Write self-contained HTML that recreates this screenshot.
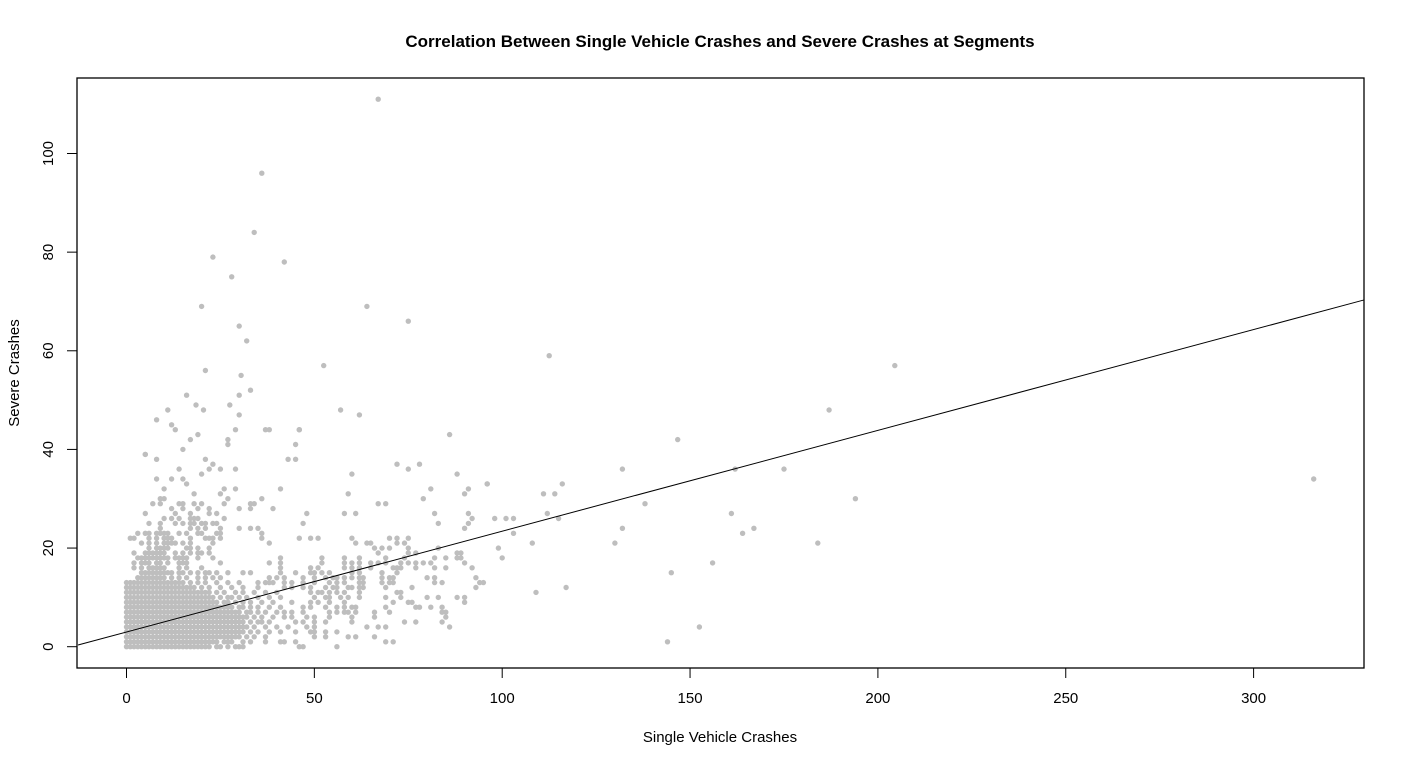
<!DOCTYPE html>
<html><head><meta charset="utf-8"><style>
html,body{margin:0;padding:0;background:#fff}
svg{display:block}
text{font-family:"Liberation Sans",Arial,sans-serif;fill:#000}
</style></head><body>
<svg id="chart" width="1405" height="766" viewBox="0 0 1405 766" xmlns="http://www.w3.org/2000/svg">
<rect width="1405" height="766" fill="#fff"/>
<text x="720" y="47" text-anchor="middle" font-size="17" font-weight="bold">Correlation Between Single Vehicle Crashes and Severe Crashes at Segments</text>
<text x="720" y="742" text-anchor="middle" font-size="15">Single Vehicle Crashes</text>
<text x="19" y="373" text-anchor="middle" font-size="15" transform="rotate(-90 19 373)">Severe Crashes</text>
<g id="points"></g>
<g id="fitline"></g>
<rect x="77" y="78" width="1287" height="590" fill="none" stroke="#000" stroke-width="1.3"/>
<g id="axes"></g>
</svg>
<script>
const xTicks=[0,50,100,150,200,250,300];
const yTicks=[0,20,40,60,80,100];
const fitIntercept=2.98;
const fitSlope=0.2044;
const denseY=[0,1,2,3,4,5,6,7,8,9,10,11,12,13,14,15,16,17,18,19,20,21,22,23,24,25,26,27,28,29,30];
const denseX=[
[0,1,2,3,4,5,6,7,8,9,10,11,12,13,14,15,16,17,18,19,20,21,22,24,25,27,29,30,31,46,47,56],
[0,1,2,3,4,5,6,7,8,9,10,11,12,13,14,15,16,17,18,19,20,21,22,23,24,26,27,28,31,33,37,41,42,45,69,71],
[0,1,2,3,4,5,6,7,8,9,10,11,12,13,14,15,16,17,18,19,20,21,22,23,24,25,26,27,28,29,30,32,34,37,50,53,59,61,66],
[0,1,2,3,4,5,6,7,8,9,10,11,12,13,14,15,16,17,18,19,20,21,22,23,24,25,26,27,28,29,30,31,33,35,38,41,45,49,50,53,56],
[0,1,2,3,4,5,6,7,8,9,10,11,12,13,14,15,16,17,18,19,20,21,22,23,24,25,26,27,28,29,30,31,32,34,37,40,43,48,50,64,67,69,86],
[0,1,2,3,4,5,6,7,8,9,10,11,12,13,14,15,16,17,18,19,20,21,22,23,24,25,26,27,28,29,30,31,33,35,36,38,45,47,50,53,60,74,77,84],
[0,1,2,3,4,5,6,7,8,9,10,11,12,13,14,15,16,17,18,19,20,21,22,23,24,25,26,27,28,29,30,31,32,34,36,39,42,44,48,50,54,60,66,85],
[0,1,2,3,4,5,6,7,8,9,10,11,12,13,14,15,16,17,18,19,20,21,22,23,24,25,26,27,28,29,30,32,33,35,37,40,42,44,47,54,56,58,59,61,66,70,84,85],
[0,1,2,3,4,5,6,7,8,9,10,11,12,13,14,15,16,17,18,19,20,21,22,23,24,25,26,27,28,30,31,33,35,38,41,47,49,53,56,58,60,61,69,77,78,81,84],
[0,1,2,3,4,5,6,7,8,9,10,11,12,13,14,15,16,17,18,19,20,21,22,23,24,26,27,29,31,33,36,39,44,49,51,54,58,71,75,76,90],
[0,1,2,3,4,5,6,7,8,9,10,11,12,13,14,15,16,17,18,19,20,21,22,23,25,27,28,30,32,35,38,41,50,53,54,57,59,62,69,73,80,83,88,90],
[0,1,2,3,4,5,6,7,8,9,10,11,12,13,14,15,16,17,18,19,20,21,22,24,26,29,31,34,37,40,49,51,52,54,56,58,62,72,73],
[0,1,2,3,4,5,6,7,8,9,10,11,12,13,14,15,16,17,18,20,22,25,28,31,35,42,44,47,49,53,55,56,59,60,62,63,69,76,93],
[0,1,2,3,4,5,6,7,8,9,10,11,12,13,14,15,17,19,21,24,27,30,35,37,38,39,42,44,47,50,54,56,58,62,63,68,70,71,82,84,94,95],
[3,4,5,6,7,8,9,10,12,14,16,19,21,23,25,38,40,42,47,50,53,55,56,58,60,62,63,68,70,71,80,82,93],
[4,5,6,7,8,9,10,11,12,14,15,17,19,21,22,24,27,31,33,41,45,49,50,52,54,60,62,68,72],
[2,4,6,7,8,9,10,14,16,20,41,49,51,58,60,62,65,71,72,73,77,82,85,92],
[2,4,5,6,8,9,11,14,15,16,25,38,41,52,58,60,62,65,67,69,73,75,77,79,81,90],
[3,4,5,6,7,8,9,10,11,13,14,15,16,19,23,41,52,58,62,69,74,82,85,88,89,100],
[2,5,6,7,8,9,10,13,15,17,19,20,22,67,75,77,88,89],
[6,8,9,10,11,16,17,19,22,66,68,70,75,83,99],
[4,6,8,10,11,12,13,15,17,23,38,61,64,65,72,74,108],
[1,2,6,8,10,11,12,17,21,22,23,25,36,46,49,51,60,70,72,75],
[3,5,6,8,9,10,11,14,16,19,20,24,25,36,103],
[9,17,19,21,25,30,33,35,90,132],
[6,9,13,15,17,18,20,21,23,24,47,83,91],
[10,12,14,17,18,19,26,92,98,101,103,115],
[5,13,17,22,24,48,58,61,82,91,112,161],
[12,15,19,22,30,33,39],
[7,9,14,15,18,20,26,33,34,67,69,138],
[9,10,27,36,79]
];
const sparseX=[67,36,34,23,42,28,20,64,75,30,32,112.5,21,52.5,204.5,30.5,33,16,30,187,11,20.5,57,62,8,30,18.5,27.5,146.7,86,5,38,46,316,132,175,162,194,130,184,144,152.5,156,145,164,167,117,109,96,111,114,116,72,75,78,60,88,81,91,96,90,59,29,37,46,19,17,27,27,45,15,5,8,21,43,45,23,14,22,25,29,20,8,12,15,16,10,26,29,41,18,25,12,13];
const sparseY=[111,96,84,79,78,75,69,69,66,65,62,59,56,57,57,55,52,51,51,48,48,48,48,47,46,47,49,49,42,43,39,44,44,34,36,36,36,30,21,21,1,4,17,15,23,24,12,11,33,31,31,33,37,36,37,35,35,32,32,33,31,31,44,44,44,43,42,42,41,41,40,39,38,38,38,38,37,36,36,36,36,35,34,34,34,33,32,32,32,32,31,31,45,44];

const X0=126.5, XS=3.757, Y0=646.7, YS=4.932;
function sx(v){return X0+v*XS;}
function sy(v){return Y0-v*YS;}
const NS="http://www.w3.org/2000/svg";
const pg=document.getElementById('points');
function dot(x,y){
  const c=document.createElementNS(NS,'circle');
  
  
  c.setAttribute('cx',sx(x).toFixed(1));c.setAttribute('cy',sy(y).toFixed(1));
  c.setAttribute('r','2.7');c.setAttribute('fill','#bebebe');
  pg.appendChild(c);
}
denseY.forEach((y,i)=>denseX[i].forEach(x=>dot(x,y)));
sparseX.forEach((x,i)=>dot(x,sparseY[i]));

const xa=-12.9, xb=329.4;
const ln=document.createElementNS(NS,'line');


ln.setAttribute('x1',sx(xa));ln.setAttribute('y1',sy(fitIntercept+fitSlope*xa));
ln.setAttribute('x2',sx(xb));ln.setAttribute('y2',sy(fitIntercept+fitSlope*xb));
ln.setAttribute('stroke','#000');ln.setAttribute('stroke-width','1');
document.getElementById('fitline').appendChild(ln);

const ax=document.getElementById('axes');
xTicks.forEach(t=>{
  const l=document.createElementNS(NS,'line');
  
  
  l.setAttribute('x1',sx(t));l.setAttribute('x2',sx(t));l.setAttribute('y1',668);l.setAttribute('y2',678);
  l.setAttribute('stroke','#000');ax.appendChild(l);
  const tx=document.createElementNS(NS,'text');
  
  
  tx.setAttribute('x',sx(t));tx.setAttribute('y',703);tx.setAttribute('text-anchor','middle');tx.setAttribute('font-size','15');
  tx.textContent=t;ax.appendChild(tx);
});
yTicks.forEach(t=>{
  const l=document.createElementNS(NS,'line');
  
  
  l.setAttribute('x1',67);l.setAttribute('x2',77);l.setAttribute('y1',sy(t));l.setAttribute('y2',sy(t));
  l.setAttribute('stroke','#000');ax.appendChild(l);
  const tx=document.createElementNS(NS,'text');
  
  
  const yy=sy(t);
  tx.setAttribute('x',53);tx.setAttribute('y',yy);tx.setAttribute('text-anchor','middle');tx.setAttribute('font-size','15');
  tx.setAttribute('transform','rotate(-90 53 '+yy+')');
  tx.textContent=t;ax.appendChild(tx);
});
</script>
</body></html>
